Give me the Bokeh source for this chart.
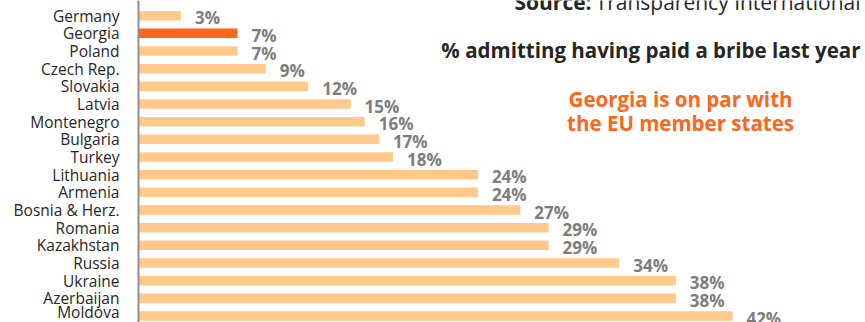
from bokeh.plotting import figure
from bokeh.models import Range1d, FixedTicker, ColumnDataSource, Label
from bokeh.core.properties import value
from bokeh.embed import file_html
from bokeh.resources import INLINE

countries = ["Germany", "Georgia", "Poland", "Czech Rep.", "Slovakia", "Latvia",
             "Montenegro", "Bulgaria", "Turkey", "Lithuania", "Armenia",
             "Bosnia & Herz.", "Romania", "Kazakhstan", "Russia", "Ukraine",
             "Azerbaijan", "Moldova"]
values = [3, 7, 7, 9, 12, 15, 16, 17, 18, 24, 24, 27, 29, 29, 34, 38, 38, 42]
highlight = "Georgia"

title_text = "% admitting having paid a bribe last year"
note_lines = ["Georgia is on par with", "the EU member states"]
source_bold = "Source:"
source_rest = "Transparency International"

FONT = "Open Sans"
LIGHT = "#FFC98B"
DARK = "#FF661C"
GRAY = "#7d7d7d"

idx = list(range(len(countries)))
colors = [DARK if c == highlight else LIGHT for c in countries]
labels = [f"{v}%" for v in values]
src = ColumnDataSource(dict(y=idx, v=values, c=colors, lab=labels))

p = figure(width=865, height=322, output_backend="svg", toolbar_location=None,
           x_range=Range1d(0, 51.41), y_range=Range1d(17.367, -0.859),
           min_border_left=138, min_border_right=0, min_border_top=0,
           min_border_bottom=0)
p.outline_line_color = None
p.xgrid.visible = False
p.ygrid.visible = False
p.xaxis.visible = False
p.background_fill_color = "white"
p.border_fill_color = "white"

p.hbar(y="y", left=0, right="v", height=0.54, fill_color="c", line_color=None,
       source=src)
p.text(x="v", y="y", text="lab", source=src, x_offset=14, y_offset=2,
       text_font=value(FONT), text_font_style="bold", text_font_size="17px",
       text_color=GRAY, text_baseline="middle", text_align="left")

yax = p.yaxis[0]
yax.ticker = FixedTicker(ticks=idx)
yax.major_label_overrides = {i: c for i, c in enumerate(countries)}
yax.major_tick_line_color = None
yax.minor_tick_line_color = None
yax.axis_line_color = "#8f8f8f"
yax.axis_line_width = 2
yax.major_label_standoff = 13
yax.major_label_text_font = FONT
yax.major_label_text_font_size = "15.5px"
yax.major_label_text_color = "#262626"

# Source line (mostly cut off at the top edge, as in the reference)
p.add_layout(Label(x=32.04, y=-0.77, text=source_bold, text_font=FONT,
                   text_font_style="bold", text_font_size="21px",
                   text_color="#262626", text_align="right",
                   text_baseline="alphabetic"))
p.add_layout(Label(x=51.06, y=-0.77, text=source_rest, text_font=FONT,
                   text_font_size="21px", text_color="#262626",
                   text_align="right", text_baseline="alphabetic"))

p.add_layout(Label(x=51.06, y=1.97, text=title_text, text_font=FONT,
                   text_font_style="bold", text_font_size="20.5px",
                   text_color="#262626", text_align="right",
                   text_baseline="alphabetic"))
p.add_layout(Label(x=38.33, y=4.70, text=note_lines[0], text_font=FONT,
                   text_font_style="bold", text_font_size="20.5px",
                   text_color=DARK, text_align="center",
                   text_baseline="alphabetic"))
p.add_layout(Label(x=38.33, y=6.07, text=note_lines[1], text_font=FONT,
                   text_font_style="bold", text_font_size="20.5px",
                   text_color=DARK, text_align="center",
                   text_baseline="alphabetic"))

open("out.html", "w").write(file_html(p, INLINE))
